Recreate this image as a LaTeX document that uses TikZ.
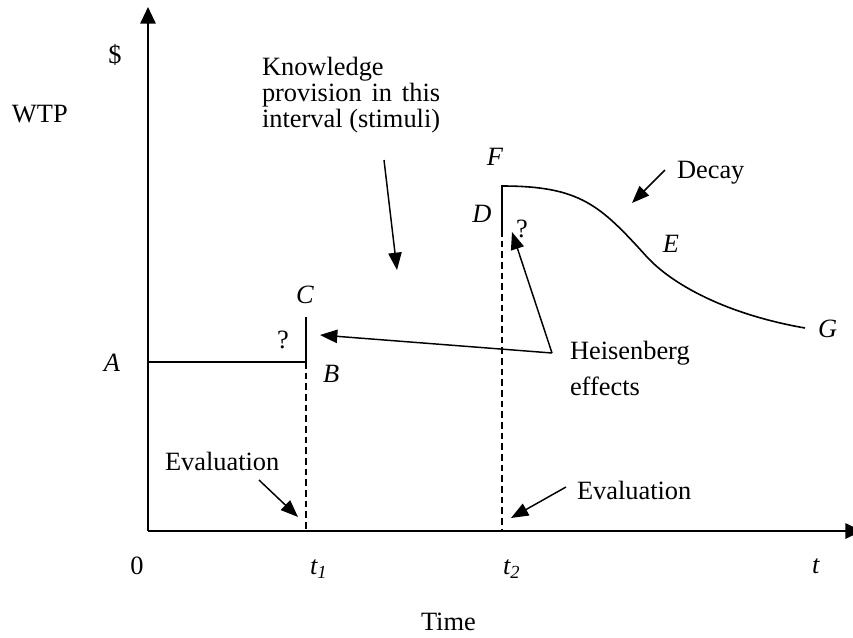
\documentclass[tikz,border=0pt]{standalone}
\usepackage{fontspec}
\setmainfont{Liberation Serif}
\usetikzlibrary{arrows.meta}
\begin{document}
\begin{tikzpicture}[x=0.75pt,y=-0.75pt,
  txt/.style={font=\fontsize{19.8}{19.8}\selectfont, inner sep=0pt, outer sep=0pt},
  axisline/.style={line width=1.5pt, -{Triangle[length=12.5pt,width=11.5pt]}},
  solidline/.style={line width=1.2pt},
  dashline/.style={line width=1.1pt, dash pattern=on 5pt off 3pt},
  pointer/.style={line width=1.1pt, -{Triangle[length=13pt,width=10pt]}}]
\useasboundingbox (0,0) rectangle (853,637);
\fill[white] (0,0) rectangle (853,637);
% key points
\coordinate (O) at (148,531);
\coordinate (Ytop) at (148,7);
\coordinate (Xend) at (862,531);
\coordinate (Apt) at (148,362);
\coordinate (Bpt) at (306,362);
\coordinate (Cpt) at (306,317);
\coordinate (T1pt) at (306,531);
\coordinate (Fpt) at (502,186);
\coordinate (Dpt) at (502,230);
\coordinate (T2pt) at (502,531);
\coordinate (Gpt) at (805,328);
% axes
\draw[axisline] (O) -- (Ytop);
\draw[axisline] (O) -- (Xend);
% WTP path
\draw[solidline] (Apt) -- (Bpt) -- (Cpt);
\draw[dashline] (Bpt) -- (T1pt);
\draw[solidline] (Dpt) -- (Fpt) .. controls (580,186) and (600,205) .. (647,257)
   .. controls (672,284) and (725,314) .. (Gpt);
\draw[dashline] (Dpt) -- (T2pt);
% text
\node[txt, anchor=base] (dollar) at (115,63) {\$};
\node[txt, anchor=base west] (wtp) at (12,122) {WTP};
\node[txt, anchor=base west] (k1) at (262,75) {Knowledge};
\node[txt, anchor=base west] (k2) at (262,101) {\makebox[133.6pt][s]{provision in this}};
\node[txt, anchor=base west] (k3) at (262,127) {interval (stimuli)};
\node[txt, anchor=base] (labC) at (305,303) {\textit{C}};
\node[txt, anchor=base] (q1) at (283,348) {?};
\node[txt, anchor=base west] (labB) at (323,382) {\textit{B}};
\node[txt, anchor=base] (labA) at (112,371) {\textit{A}};
\node[txt, anchor=base] (labD) at (482,222) {\textit{D}};
\node[txt, anchor=base] (q2) at (522,237) {?};
\node[txt, anchor=base] (labF) at (495,165) {\textit{F}};
\node[txt, anchor=base] (labE) at (671,252) {\textit{E}};
\node[txt, anchor=base west] (labG) at (818,337) {\textit{G}};
\node[txt, anchor=base west] (decay) at (677,178) {Decay};
\node[txt, anchor=base west] (heis) at (570,359) {Heisenberg};
\node[txt, anchor=base west] (effects) at (570,395) {effects};
\node[txt, anchor=base west] (eval2) at (577,499) {Evaluation};
\node[txt, anchor=base west] (eval1) at (165,470) {Evaluation};
\node[txt, anchor=base] (zero) at (137,574) {0};
\node[txt, anchor=base west] (t1) at (310,574) {\textit{t\textsubscript{1}}};
\node[txt, anchor=base west] (t2) at (503,574) {\textit{t\textsubscript{2}}};
\node[txt, anchor=base west] (tt) at (812,573) {\textit{t}};
\node[txt, anchor=base west] (time) at (421,630) {Time};
% pointers
\coordinate (kstart) at (384,160);
\coordinate (ktip) at (397,270);
\draw[pointer] (kstart) -- (ktip);
\coordinate (hcorner) at (552,353);
\coordinate (htipB) at (320,335);
\coordinate (htipD) at (512,232);
\draw[pointer] (hcorner) -- (htipB);
\draw[pointer] (hcorner) -- (htipD);
\coordinate (dstart) at (665,170);
\coordinate (dtip) at (632,203);
\draw[pointer] (dstart) -- (dtip);
\coordinate (e2start) at (566,487);
\coordinate (e2tip) at (511,518);
\draw[pointer] (e2start) -- (e2tip);
\coordinate (e1start) at (259,480);
\coordinate (e1tip) at (298,517);
\draw[pointer] (e1start) -- (e1tip);
\end{tikzpicture}
\end{document}
